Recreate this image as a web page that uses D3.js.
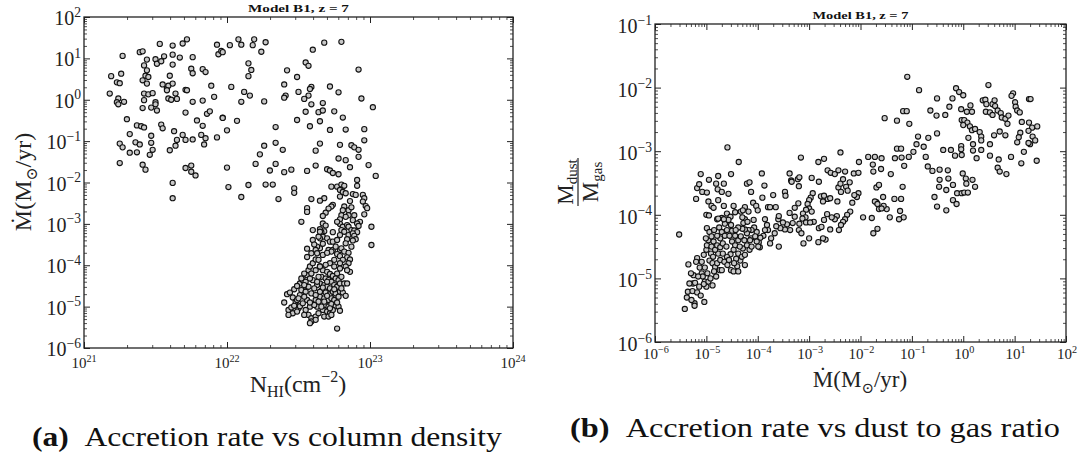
<!DOCTYPE html>
<html>
<head>
<meta charset="utf-8">
<title>Model B1, z = 7</title>
<script src="https://d3js.org/d3.v7.min.js"></script>
<style>
  body { margin: 0; background: #fff; }
  svg { display: block; font-family: "Liberation Serif", "DejaVu Serif", serif; }
</style>
</head>
<body>
<svg width="1083" height="457"></svg>
<script>
// values, stored as log10
// panel (a): [log N_HI (cm^-2), log Mdot (Msun/yr)]
var panelA = [
  [21.18,0.15],[21.19,0.57],[21.23,0.42],[21.25,0.40],[21.26,0.63],[21.24,0.03],[21.23,-0.06],[21.24,-0.11],[21.28,-0.05],[21.27,1.06],
  [21.30,-0.47],[21.32,-0.83],[21.25,-1.06],[21.27,-1.15],[21.32,-1.28],[21.25,-1.53],[21.36,-1.03],[21.39,-1.08],[21.37,-1.27],[21.37,-0.62],
  [21.40,-0.64],[21.42,-0.67],[21.39,1.15],[21.41,1.17],[21.44,0.97],[21.42,0.83],[21.44,0.71],[21.43,0.58],[21.45,0.55],[21.41,0.47],
  [21.44,0.39],[21.42,0.15],[21.45,0.13],[21.48,0.16],[21.42,-0.01],[21.41,-0.20],[21.47,-0.19],[21.50,-0.06],[21.50,-0.11],[21.51,-0.26],
  [21.50,0.98],[21.51,0.87],[21.54,0.93],[21.53,1.35],[21.56,1.05],[21.62,1.31],[21.62,1.09],[21.62,0.85],[21.67,1.02],[21.69,1.36],
  [21.72,1.46],[21.76,1.03],[21.60,0.58],[21.55,0.37],[21.58,0.27],[21.59,0.34],[21.62,0.39],[21.58,0.23],[21.64,0.15],[21.59,0.03],
  [21.61,0.00],[21.65,0.02],[21.71,0.24],[21.72,0.23],[21.76,-0.05],[21.75,0.75],[21.76,0.64],[21.83,0.74],[21.85,0.67],[21.89,0.34],
  [21.91,0.07],[21.83,-0.02],[21.71,-0.31],[21.79,-0.50],[21.86,-0.34],[21.88,-0.28],[21.97,-0.43],[21.97,-0.44],[22.07,-0.51],[22.00,-0.74],
  [21.83,-0.63],[21.54,-0.60],[21.55,-0.69],[21.47,-0.87],[21.47,-1.04],[21.48,-1.21],[21.46,-1.33],[21.63,-0.76],[21.65,-0.97],[21.64,-1.11],
  [21.60,-1.22],[21.69,-0.85],[21.71,-0.97],[21.76,-0.96],[21.82,-0.85],[21.85,-0.93],[21.84,-1.08],[21.93,-0.91],[21.41,-1.57],[21.43,-1.69],
  [21.62,-2.01],[21.71,-1.65],[21.75,-1.59],[21.75,-1.74],[21.78,-1.83],[22.00,-1.64],[22.01,-2.11],[21.93,1.33],[21.94,1.10],[21.96,1.18],
  [21.97,1.15],[22.02,1.32],[22.08,1.46],[22.10,1.33],[22.19,1.46],[22.18,1.32],[22.27,1.39],[22.24,1.16],[22.15,0.88],[22.17,0.72],
  [22.15,0.57],[22.03,0.31],[22.12,0.19],[22.16,0.10],[22.10,-0.05],[22.26,-0.04],[22.34,-0.66],[22.26,-1.11],[22.23,-1.32],[22.20,-1.55],
  [22.30,-1.71],[22.34,-1.55],[22.34,-1.04],[22.39,-1.21],[22.40,-1.75],[22.45,-1.69],[22.15,-2.06],[22.27,-2.05],[22.32,-2.05],[22.47,-2.14],
  [22.56,-1.72],[22.42,0.71],[22.49,0.55],[22.40,0.37],[22.41,0.10],[22.40,0.05],[22.50,0.19],[22.55,0.90],[22.57,0.82],[22.59,0.31],
  [22.58,0.26],[22.57,0.10],[22.54,0.02],[22.59,-0.11],[22.60,1.21],[22.55,-0.29],[22.49,-0.49],[22.58,-0.64],
  [22.68,1.38],[22.80,1.40],[22.92,0.73],[22.72,0.32],[22.78,0.18],[22.67,-0.08],[22.64,-0.30],[22.67,-0.26],[22.75,-0.28],[22.81,-0.43],
  [22.94,0.03],[23.02,-0.18],[22.65,-0.52],[22.72,-0.73],[22.83,-0.72],[22.96,-0.71],[22.96,-0.98],[22.65,-1.06],[22.62,-1.23],[22.79,-1.09],
  [22.87,-1.10],[22.89,-1.15],[22.92,-1.21],[22.92,-1.38],[22.78,-1.42],[22.83,-1.46],[22.86,-1.63],[22.99,-1.58],[22.62,-1.59],[22.70,-1.68],
  [22.72,-1.71],[22.74,-1.77],[22.78,-1.80],[23.04,-1.84],
  [21.62,-2.38],[22.10,-2.35],[22.36,-2.40],[22.47,-2.25],[22.56,-2.62],[22.56,-2.71],[22.59,-2.40],
  [22.91,-1.94],[22.91,-2.08],[22.73,-2.10],[22.77,-2.10],[22.80,-2.05],[22.82,-2.08],[22.79,-2.18],[22.81,-2.23],[22.83,-2.26],[22.79,-2.34],
  [22.88,-2.28],[22.90,-2.30],[22.95,-2.30],[22.96,-2.38],[22.95,-2.46],[22.97,-2.57],[22.98,-2.62],[22.68,-2.38],[22.65,-2.44],[22.74,-2.54],
  [22.73,-2.58],[22.71,-2.63],[22.69,-2.73],[22.67,-2.81],[22.82,-2.58],[22.81,-2.67],[22.85,-2.67],[22.87,-2.60],[22.85,-2.79],[22.80,-2.79],
  [22.83,-2.83],[22.89,-2.79],[22.96,-2.77],[22.79,-2.89],[22.88,-2.91],[22.93,-2.95],[22.91,-2.99],[22.67,-2.99],[22.69,-3.04],[22.65,-3.13],
  [22.68,-3.18],[22.66,-3.20],[22.67,-3.31],[22.65,-3.35],[22.79,-3.00],[22.81,-3.07],[22.84,-3.03],[22.80,-3.15],[22.82,-3.19],[22.85,-3.07],
  [22.87,-3.15],[22.89,-3.16],[22.91,-3.20],[22.79,-3.27],[22.85,-3.27],[22.88,-3.23],[22.89,-3.29],[22.84,-3.37],[22.90,-3.37],[22.83,-3.47],
  [22.70,-3.35],[22.72,-3.43],[22.74,-3.43],[22.77,-3.39],[23.01,-3.07],[23.01,-3.51],[22.87,-3.55],
  [22.65,-3.59],[22.71,-3.63],[22.74,-3.63],[22.73,-3.67],[22.79,-3.63],[22.80,-3.59],[22.82,-3.67],[22.85,-3.70],[22.77,-3.73],[22.67,-3.75],
  [22.79,-3.78],[22.84,-3.81],[22.86,-3.86],[22.75,-3.87],[22.81,-3.87],[22.72,-3.95],[22.79,-3.95],[22.85,-3.95],[22.83,-4.03],[22.69,-3.99],
  [22.75,-4.03],[22.79,-4.08],[22.86,-4.16],[22.65,-4.03],[22.84,-4.12],
  [22.67,-4.12],[22.70,-4.16],[22.72,-4.21],[22.74,-4.26],[22.77,-4.20],[22.66,-4.28],[22.69,-4.32],[22.71,-4.36],[22.73,-4.40],[22.76,-4.32],
  [22.78,-4.36],[22.80,-4.28],[22.65,-4.44],[22.68,-4.48],[22.70,-4.52],[22.72,-4.56],[22.75,-4.48],[22.77,-4.52],[22.79,-4.44],[22.82,-4.44],
  [22.84,-4.44],[22.66,-4.62],[22.69,-4.66],[22.72,-4.70],[22.74,-4.64],[22.76,-4.68],[22.79,-4.64],[22.65,-4.76],[22.68,-4.80],[22.71,-4.84],
  [22.73,-4.80],[22.75,-4.84],[22.78,-4.76],[22.81,-4.66],[22.83,-4.74],[22.66,-4.92],[22.69,-4.96],[22.71,-5.00],[22.73,-4.94],[22.76,-4.99],
  [22.78,-5.00],[22.67,-5.08],[22.70,-5.12],[22.72,-5.16],[22.74,-5.08],[22.79,-5.10],[22.68,-5.24],[22.71,-5.24],[22.73,-5.20],[22.77,-5.53],
  [22.40,-4.90],[22.42,-4.70],[22.44,-4.66],[22.43,-5.08],[22.45,-5.02],[22.46,-5.16],[22.43,-5.20],[22.46,-4.78],[22.48,-4.88],[22.49,-4.84],
  [22.51,-4.72],[22.52,-4.60],[22.50,-5.04],[22.49,-5.12],[22.51,-4.99],[22.53,-4.92],[22.56,-4.84],[22.55,-4.64],[22.56,-4.52],[22.51,-4.44],
  [22.53,-4.36],[22.56,-4.24],[22.57,-4.12],[22.58,-4.03],[22.60,-3.95],[22.62,-3.86],[22.59,-3.71],[22.56,-3.60],[22.60,-3.39],[22.64,-3.31],
  [22.63,-3.55],[22.62,-3.63],[22.52,-2.95],[22.60,-3.15],[22.65,-3.19],[22.57,-4.52],[22.59,-4.68],[22.62,-4.84],[22.58,-5.00],[22.55,-5.08],
  [22.57,-5.20],[22.59,-5.28],[22.62,-5.24],[22.64,-5.16],[22.63,-5.00],[22.59,-5.36],[22.58,-5.40],[22.62,-5.32],[22.64,-4.28],[22.63,-4.48],
  [22.60,-4.36],[22.54,-4.20],[22.52,-4.32],[22.55,-4.40],[22.58,-4.32],[22.59,-4.20],[22.62,-4.12],[22.65,-4.03],[22.64,-3.87],[22.63,-3.71],
  [22.65,-4.64],[22.62,-4.72],[22.64,-4.88],
  [22.47,-4.98],[22.50,-4.80],[22.54,-4.76],[22.47,-4.58],[22.49,-4.50],[22.54,-5.20],[22.61,-4.56],[22.61,-4.96],[22.67,-4.54],[22.68,-4.88],
  [22.70,-4.40],[22.70,-4.74],[22.72,-5.04],[22.75,-4.58],[22.77,-4.90],[22.63,-4.40],[22.58,-4.90],[22.54,-4.48],[22.66,-5.00],[22.80,-4.56],
  [22.56,-3.80],[22.61,-3.50],[22.67,-3.48],[22.70,-3.70],[22.76,-3.55],[22.88,-3.40],[22.92,-3.05],[22.77,-2.95],[22.74,-3.20],[22.86,-2.45]
];

// panel (b): [log Mdot (Msun/yr), log Mdust/Mgas]
var panelB = [
  [-5.53,-4.31],[-4.59,-2.94],[-4.37,-3.17],[-5.11,-3.36],[-5.18,-3.58],[-5.14,-3.52],[-5.20,-3.75],[-5.08,-3.64],[-4.99,-3.65],[-4.95,-3.45],
  [-4.77,-3.39],[-4.81,-3.51],[-4.78,-3.60],[-4.70,-3.64],[-4.66,-3.51],[-4.57,-3.67],[-4.52,-3.36],[-4.96,-3.79],[-4.90,-3.86],[-4.86,-3.89],
  [-5.00,-4.00],[-4.95,-4.01],[-4.66,-3.86],[-4.47,-3.86],[-4.77,-3.77],[-4.79,-4.07],[-4.70,-4.05],[-4.60,-3.98],[-4.53,-4.03],[-4.44,-3.96],
  [-4.33,-3.95],[-4.25,-3.88],[-4.21,-3.51],[-4.16,-3.49],[-4.13,-3.64],[-4.09,-3.81],[-4.03,-3.86],[-4.00,-3.93],[-3.92,-3.35],[-3.91,-3.73],
  [-3.87,-3.54],[-3.80,-3.88],[-3.70,-3.69],[-3.76,-3.88],[-3.65,-3.88],[-3.47,-3.64],[-3.46,-3.70],[-3.38,-3.35],[-3.35,-3.46],[-3.34,-3.48],
  [-3.38,-3.97],[-3.28,-3.89],[-3.21,-3.82],[-3.22,-3.44],[-3.20,-3.55],[-3.19,-3.41],[-3.16,-3.10],[-2.95,-3.42],[-2.81,-3.48],[-2.82,-3.17],
  [-2.71,-3.12],[-2.64,-3.30],[-2.58,-3.34],[-2.50,-3.36],[-2.43,-3.30],[-2.39,-3.02],[-2.30,-3.32],[-2.21,-3.49],[-2.13,-3.35],[-2.04,-3.34],
  [-2.03,-3.17],[-1.85,-3.09],[-1.76,-3.21],[-1.75,-3.32],[-1.72,-3.09],[-1.59,-3.11],[-1.60,-3.28],[-1.41,-3.36],[-1.33,-3.11],[-1.29,-2.96],
  [-1.21,-2.96],[-1.20,-3.10],[-1.15,-3.23],[-1.18,-3.56],[-1.21,-3.75],[-1.23,-3.94],[-1.16,-4.04],[-1.25,-4.07],[-1.43,-4.04],[-1.34,-3.75],
  [-1.49,-3.91],[-1.55,-3.86],[-1.56,-3.72],[-1.69,-3.57],[-1.64,-3.53],[-1.69,-3.80],[-1.72,-3.79],[-1.67,-3.83],[-1.64,-3.91],[-1.59,-3.90],
  [-1.67,-4.22],[-1.75,-4.29],[-1.78,-4.05],[-1.95,-4.04],[-2.04,-3.66],[-2.07,-3.72],[-2.12,-3.69],[-2.16,-3.81],[-2.20,-3.95],[-2.26,-4.00],
  [-2.30,-4.07],[-2.34,-4.11],[-2.38,-4.16],[-2.42,-4.24],[-2.46,-4.02],[-2.50,-4.07],[-2.56,-4.04],[-2.59,-4.23],[-2.68,-4.39],[-2.73,-4.37],
  [-2.82,-4.43],[-2.81,-4.21],[-2.76,-4.19],[-2.71,-4.08],[-2.65,-3.99],[-2.64,-3.75],[-2.59,-3.74],[-2.43,-3.57],[-2.39,-3.51],[-2.34,-3.44],
  [-2.28,-3.56],[-2.25,-3.62],[-2.38,-3.64],[-2.45,-3.79],[-2.73,-3.79],[-2.77,-3.71],[-2.71,-3.70],[-2.93,-3.66],[-2.97,-3.73],[-3.00,-3.77],
  [-3.03,-3.83],[-3.00,-3.90],[-2.95,-3.95],[-3.06,-3.92],[-3.12,-3.98],[-3.07,-4.04],[-3.13,-4.06],[-3.19,-4.14],[-3.20,-4.24],[-3.15,-4.29],
  [-3.11,-4.45],[-3.00,-4.37],[-2.91,-4.11],[-3.06,-4.12],[-2.98,-4.12],[-3.28,-4.03],[-3.32,-4.13],[-3.37,-4.24],[-3.43,-4.15],[-3.47,-4.23],
  [-3.51,-4.12],[-3.56,-4.21],[-3.64,-4.18],[-3.60,-4.07],[-3.59,-4.02],[-3.59,-4.50],[-3.67,-4.29],[-3.74,-4.37],[-3.76,-4.45],[-3.80,-4.24],
  [-3.82,-4.16],[-3.86,-4.24],[-3.89,-4.33],[-3.86,-4.07],[-3.96,-4.51],[-3.98,-4.43],[-3.95,-4.36],[-4.02,-4.27],[-4.07,-4.20],[-4.12,-4.24],
  [-4.13,-4.37],[-4.18,-4.24],[-4.25,-4.07],[-4.28,-4.13],[-4.30,-4.04],
  [-5.42,-5.48],[-5.38,-5.30],[-5.36,-5.21],[-5.27,-5.20],[-5.26,-5.08],[-5.25,-4.95],[-5.22,-5.07],[-5.18,-5.22],[-5.23,-5.39],[-5.23,-5.43],
  [-5.11,-5.27],[-5.04,-5.37],[-5.35,-4.78],[-5.18,-4.68],[-5.20,-4.74],[-5.13,-4.83],[-5.09,-4.92],[-5.07,-4.97],[-5.03,-5.05],[-5.00,-5.13],
  [-5.05,-5.09],[-4.96,-5.05],[-4.92,-5.00],[-4.88,-5.11],[-4.98,-4.92],[-5.03,-4.83],[-5.09,-4.74],[-5.05,-4.63],[-5.00,-4.55],[-4.99,-4.48],
  [-4.96,-4.40],[-5.01,-4.37],[-4.99,-4.21],[-4.94,-4.27],[-4.90,-4.34],[-4.86,-4.42],[-4.90,-4.50],[-4.91,-4.61],[-4.87,-4.66],[-4.94,-4.72],
  [-4.88,-4.76],[-4.83,-4.82],[-4.85,-4.89],[-4.81,-4.97],[-4.74,-4.87],[-4.79,-4.76],[-4.73,-4.71],[-4.77,-4.61],[-4.83,-4.55],[-4.79,-4.48],
  [-4.73,-4.51],[-4.68,-4.45],[-4.73,-4.37],[-4.79,-4.33],[-4.85,-4.24],[-4.75,-4.20],[-4.70,-4.27],[-4.64,-4.33],[-4.60,-4.24],[-4.64,-4.14],
  [-4.57,-4.08],[-4.52,-4.16],[-4.50,-4.25],[-4.55,-4.33],[-4.50,-4.42],[-4.44,-4.48],[-4.47,-4.55],[-4.53,-4.62],[-4.60,-4.66],[-4.65,-4.74],
  [-4.59,-4.79],[-4.52,-4.87],[-4.47,-4.89],[-4.40,-4.81],[-4.38,-4.89],[-4.25,-4.79],[-4.34,-4.72],[-4.42,-4.69],[-4.38,-4.61],[-4.31,-4.66],
  [-4.25,-4.63],[-4.29,-4.53],[-4.35,-4.50],[-4.38,-4.40],[-4.33,-4.34],[-4.26,-4.40],[-4.21,-4.48],[-4.16,-4.55],[-4.12,-4.50],[-4.15,-4.40],
  [-4.21,-4.29],[-4.25,-4.23],[-4.30,-4.22],[-4.38,-4.20],[-4.43,-4.24],[-4.44,-4.33],[-4.20,-4.11],[-4.05,-4.34],[-4.02,-4.42],[-3.99,-4.50],
  [-4.08,-4.08],[-4.18,-3.95],[-4.29,-3.93],[-4.66,-4.07],[-4.77,-4.06],[-5.16,-4.97],[-5.14,-5.13],[-5.30,-4.92],[-5.33,-5.08],[-5.29,-5.34],
  [-4.70,-4.87],[-4.68,-4.61],[-4.61,-4.50],[-4.56,-4.71],[-4.46,-4.76],
  [-1.09,-1.83],[-0.86,-2.04],[-1.53,-2.48],[-1.29,-2.52],[-1.17,-2.37],[-1.10,-2.37],[-1.05,-2.57],[-0.51,-2.17],[-0.35,-2.43],[-0.52,-2.44],
  [-0.64,-2.36],[-0.27,-2.30],[-0.21,-2.17],[-0.14,-2.01],[-0.08,-2.07],[0.00,-2.12],[-0.04,-2.34],[0.07,-2.38],[0.14,-2.28],[0.17,-2.38],
  [0.49,-1.96],[0.38,-2.20],[0.43,-2.19],[0.45,-2.26],[0.57,-2.26],[0.61,-2.20],[0.62,-2.29],[0.97,-2.09],[0.94,-2.13],[1.01,-2.23],
  [1.02,-2.30],[1.05,-2.36],[1.10,-2.39],[1.28,-2.18],[1.31,-2.18],[-0.03,-2.51],[0.02,-2.51],[0.08,-2.55],[0.00,-2.59],[0.13,-2.61],
  [0.17,-2.67],[0.23,-2.65],[0.32,-2.70],[0.35,-2.77],[0.44,-2.38],[0.52,-2.39],[0.57,-2.43],[0.67,-2.36],[0.73,-2.40],[0.75,-2.47],
  [0.82,-2.49],[0.86,-2.57],[0.88,-2.44],[1.14,-2.54],[1.28,-2.55],[1.34,-2.63],[1.27,-2.68],[1.44,-2.61],[1.35,-2.77],[1.40,-2.83],
  [1.30,-2.89],[1.18,-3.01],[1.13,-3.19],[1.43,-3.15],[1.27,-2.87],[1.11,-2.71],[1.08,-2.78],[1.05,-2.86],[0.93,-3.09],[0.52,-2.89],
  [0.60,-2.75],[0.71,-2.69],[0.82,-2.75],[0.67,-3.26],[0.71,-3.32],[0.84,-3.36],[0.69,-3.13],[0.52,-3.07],[0.35,-2.98],[0.35,-2.83],
  [0.19,-2.89],[0.19,-2.99],[0.26,-3.11],[0.10,-2.79],[-0.04,-2.92],[-0.04,-2.97],[-0.03,-3.06],[-0.16,-3.07],[-0.30,-3.30],[-0.46,-3.29],
  [-0.29,-3.43],[-0.20,-3.53],[-0.12,-3.66],[-0.03,-3.66],[0.02,-3.65],[0.09,-3.65],[0.23,-3.56],[-0.01,-3.35],[0.05,-3.43],[0.06,-3.51],
  [0.18,-3.45],[-1.06,-3.09],[-0.97,-3.01],[-0.91,-2.89],[-0.88,-2.77],[-0.77,-2.93],[-0.68,-2.79],[-0.51,-2.72],[-0.73,-3.09],[-0.69,-3.24],
  [-0.60,-3.31],[-0.46,-3.45],[-0.47,-3.56],[-0.33,-3.61],[-0.56,-3.72],[-0.51,-3.87],[-0.33,-3.93],[-0.20,-3.77],[-0.13,-3.83],[-0.39,-2.98],
  [-0.24,-2.98]
];

// decade exponents for the tick labels
var xDecadesA = [21, 22, 23, 24];
var yDecadesA = [-6, -5, -4, -3, -2, -1, 0, 1, 2];
var xDecadesB = [-6, -5, -4, -3, -2, -1, 0, 1, 2];
var yDecadesB = [-6, -5, -4, -3, -2, -1];

var titleText = "Model B1, z = 7";

var svg = d3.select("svg");

// minor tick values 2..9 x 10^n inside the domain
function minorTicks(decades) {
  var out = [];
  for (var i = 0; i < decades.length - 1; i++) {
    for (var k = 2; k <= 9; k++) out.push(k * Math.pow(10, decades[i]));
  }
  return out;
}

// "10" with a superscript exponent
function powLabel(g, x, y, e, size, anchor) {
  var t = g.append("text")
    .attr("x", x).attr("y", y)
    .attr("text-anchor", anchor)
    .attr("font-size", size)
    .attr("fill", "#222");
  t.append("tspan").text("10");
  t.append("tspan")
    .attr("font-size", size * 0.68)
    .attr("dy", -size * 0.42)
    .text(e < 0 ? "\u2212" + (-e) : e);
}

// stretch a text sideways so it spans the same width as in the figure
function fitWidth(t, left, base, width) {
  var w = t.node().getComputedTextLength();
  t.attr("x", 0).attr("y", 0)
    .attr("transform", "translate(" + left + "," + base + ") scale(" + (width / w) + ",1)");
}

function drawPanel(p) {
  var g = svg.append("g");
  var x = p.x, y = p.y;
  var x0 = x.range()[0], x1 = x.range()[1];
  var y0 = y.range()[0], y1 = y.range()[1];

  var xMajor = p.xDec.map(function (e) { return Math.pow(10, e); });
  var yMajor = p.yDec.map(function (e) { return Math.pow(10, e); });
  var xMinor = minorTicks(p.xDec);
  var yMinor = minorTicks(p.yDec);

  // ticks on all four sides, pointing inwards
  var sides = [
    { ax: d3.axisBottom(x), tr: "translate(0," + y0 + ")", maj: xMajor, min: xMinor },
    { ax: d3.axisTop(x), tr: "translate(0," + y1 + ")", maj: xMajor, min: xMinor },
    { ax: d3.axisLeft(y), tr: "translate(" + x0 + ",0)", maj: yMajor, min: yMinor },
    { ax: d3.axisRight(y), tr: "translate(" + x1 + ",0)", maj: yMajor, min: yMinor }
  ];
  sides.forEach(function (s) {
    var a1 = s.ax.tickValues(s.min).tickSize(-3).tickSizeOuter(0).tickFormat("");
    var ga = g.append("g").attr("transform", s.tr).call(a1);
    ga.select(".domain").remove();
    ga.selectAll("line").attr("stroke", "#222").attr("stroke-width", 0.8);
    var a2 = s.ax.tickValues(s.maj).tickSize(-6).tickSizeOuter(0).tickFormat("");
    var gb = g.append("g").attr("transform", s.tr).call(a2);
    gb.select(".domain").remove();
    gb.selectAll("line").attr("stroke", "#222").attr("stroke-width", 1);
  });

  // frame
  g.append("rect")
    .attr("x", x0).attr("y", y1)
    .attr("width", x1 - x0).attr("height", y0 - y1)
    .attr("fill", "none").attr("stroke", "#222").attr("stroke-width", 1.3);

  // points
  g.append("g").selectAll("circle")
    .data(p.data)
    .enter()
    .append("circle")
    .attr("cx", function (d) { return x(Math.pow(10, d[0])); })
    .attr("cy", function (d) { return y(Math.pow(10, d[1])); })
    .attr("r", 2.6)
    .attr("fill", "#c8c8c8")
    .attr("stroke", "#111")
    .attr("stroke-width", 1.1);

  // tick labels
  p.xDec.forEach(function (e) {
    powLabel(g, x(Math.pow(10, e)) + p.xLabShift, y0 + p.xLabDy, e, p.xLabSize, "middle");
  });
  p.yDec.forEach(function (e) {
    powLabel(g, x0 - 3, y(Math.pow(10, e)) + p.yLabDy, e, p.yLabSize, "end");
  });

  // title
  var t = g.append("text")
    .attr("font-size", 11)
    .attr("font-weight", "bold")
    .attr("fill", "#111")
    .text(titleText);
  fitWidth(t, (x0 + x1) / 2 - p.titleW / 2, y1 - 5, p.titleW);
  return g;
}

// panel (a)
var gA = drawPanel({
  x: d3.scaleLog().domain([1e21, 1e24]).range([84, 513]),
  y: d3.scaleLog().domain([1e-6, 1e2]).range([348, 17]),
  xDec: xDecadesA, yDec: yDecadesA, data: panelA,
  xLabDy: 20, xLabSize: 15, xLabShift: 0,
  yLabDy: 8, yLabSize: 20, titleW: 101
});

// panel (b)
var gB = drawPanel({
  x: d3.scaleLog().domain([1e-6, 1e2]).range([655, 1066]),
  y: d3.scaleLog().domain([1e-6, 1e-1]).range([342, 24]),
  xDec: xDecadesB, yDec: yDecadesB, data: panelB,
  xLabDy: 17, xLabSize: 15, xLabShift: 1,
  yLabDy: 9, yLabSize: 20, titleW: 96
});

// axis labels
function mdotLabel(t, size) {
  t.append("tspan").text("\u1E40(M");
  t.append("tspan").attr("font-size", size * 0.65).attr("dy", size * 0.25).text("\u2299");
  t.append("tspan").attr("dy", -size * 0.25).text("/yr)");
}

var yLabA = svg.append("text")
  .attr("transform", "translate(31,182) rotate(-90)")
  .attr("text-anchor", "middle")
  .attr("font-size", 24)
  .attr("fill", "#222");
mdotLabel(yLabA, 24);

var xLabA = svg.append("text")
  .attr("x", 298).attr("y", 392)
  .attr("text-anchor", "middle")
  .attr("font-size", 24)
  .attr("fill", "#222");
xLabA.append("tspan").text("N");
xLabA.append("tspan").attr("font-size", 16).attr("dy", 5).text("HI");
xLabA.append("tspan").attr("dy", -5).text("(cm");
xLabA.append("tspan").attr("font-size", 16).attr("dy", -10).text("\u22122");
xLabA.append("tspan").attr("dy", 10).text(")");

var xLabB = svg.append("text")
  .attr("x", 860).attr("y", 387)
  .attr("text-anchor", "middle")
  .attr("font-size", 23)
  .attr("fill", "#222");
mdotLabel(xLabB, 23);

// dust-to-gas fraction label
var frac = svg.append("g").attr("transform", "translate(578,182) rotate(-90)");
var num = frac.append("text").attr("y", -5).attr("text-anchor", "middle").attr("font-size", 23).attr("fill", "#222");
num.append("tspan").text("M");
num.append("tspan").attr("font-size", 15).attr("dy", 4).text("dust");
var den = frac.append("text").attr("y", 20).attr("text-anchor", "middle").attr("font-size", 23).attr("fill", "#222");
den.append("tspan").text("M");
den.append("tspan").attr("font-size", 15).attr("dy", 4).text("gas");
frac.append("line").attr("x1", -24).attr("x2", 24).attr("y1", 0).attr("y2", 0)
  .attr("stroke", "#222").attr("stroke-width", 1.2);

// sub-figure captions
var capA = svg.append("text").attr("font-size", 27).attr("fill", "#111");
capA.append("tspan").attr("font-weight", "bold").text("(a)");
capA.append("tspan").text("\u2002Accretion rate vs column density");
fitWidth(capA, 32, 446, 470);

var capB = svg.append("text").attr("font-size", 27).attr("fill", "#111");
capB.append("tspan").attr("font-weight", "bold").text("(b)");
capB.append("tspan").text("\u2002Accretion rate vs dust to gas ratio");
fitWidth(capB, 570, 437, 490);
</script>
</body>
</html>
